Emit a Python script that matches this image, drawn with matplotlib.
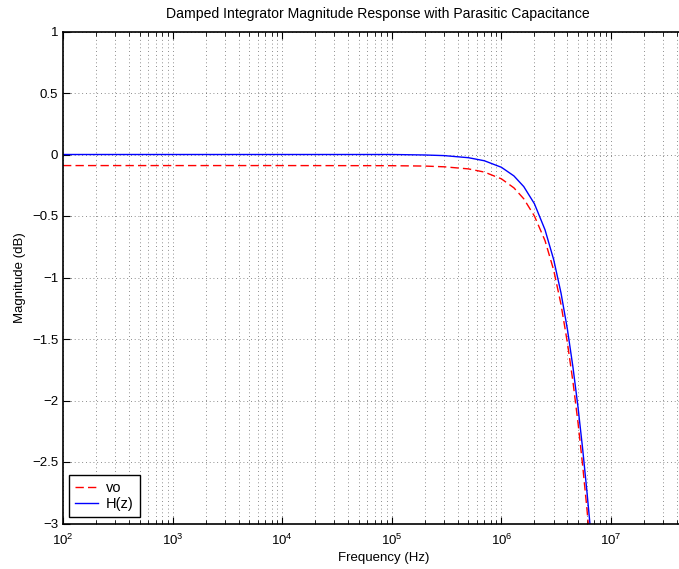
import matplotlib
matplotlib.use("Agg")
import matplotlib.pyplot as plt
from matplotlib.ticker import FixedLocator, LogLocator, NullFormatter

plt.rcParams['font.family'] = ['Liberation Sans', 'DejaVu Sans']
plt.rcParams['mathtext.fontset'] = 'custom'
plt.rcParams['mathtext.rm'] = 'Liberation Sans'
plt.rcParams['mathtext.it'] = 'Liberation Sans:italic'

# H(z) magnitude (Hz, dB)
h_freq = [1e2, 1e4, 1e5, 2e5, 3e5, 5e5, 7e5, 1e6, 1.3e6, 1.6e6, 2e6, 2.5e6,
          3e6, 3.5e6, 4e6, 4.5e6, 5e6, 5.5e6, 6e6, 6.5e6, 7e6]
h_db = [0.0, 0.0, 0.0, -0.004, -0.009, -0.026, -0.051, -0.104, -0.174, -0.261,
        -0.40, -0.612, -0.855, -1.127, -1.42, -1.731, -2.054, -2.385, -2.72,
        -3.05, -3.39]

# vo magnitude (Hz, dB)
vo_freq = [1e2, 1e4, 1e5, 2e5, 3e5, 5e5, 7e5, 1e6, 1.3e6, 1.6e6, 2e6, 2.5e6,
           3e6, 3.5e6, 4e6, 4.5e6, 5e6, 5.5e6, 6e6, 6.5e6, 7e6]
vo_db = [-0.09, -0.09, -0.091, -0.094, -0.10, -0.117, -0.143, -0.198, -0.271,
         -0.36, -0.50, -0.70, -0.94, -1.22, -1.53, -1.85, -2.18, -2.52, -2.86,
         -3.2, -3.55]

xticks = [1e2, 1e3, 1e4, 1e5, 1e6, 1e7]
yticks = [-3, -2.5, -2, -1.5, -1, -0.5, 0, 0.5, 1]
ytick_labels = ['\u22123', '\u22122.5', '\u22122', '\u22121.5', '\u22121',
                '\u22120.5', '0', '0.5', '1']

fig = plt.figure(figsize=(6.79, 5.69), dpi=100)
ax = fig.add_axes([63 / 679, 1 - 523.5 / 569, 657.6 / 679, 492 / 569])

ax.semilogx(vo_freq, vo_db, color='r', ls='--', lw=1, dashes=(6, 3), label='vo')
ax.semilogx(h_freq, h_db, color='b', ls='-', lw=1, label='H(z)')

ax.set_xlim(1e2, 1e8)
ax.set_ylim(-3, 1)
ax.set_yticks(yticks)
ax.set_yticklabels(ytick_labels)
ax.xaxis.set_major_locator(FixedLocator(xticks))
ax.xaxis.set_minor_locator(LogLocator(base=10, subs=range(2, 10), numticks=100))
ax.xaxis.set_minor_formatter(NullFormatter())

ax.grid(True, which='major', axis='both', color='k', ls=(0, (1, 3.5)), lw=0.6, alpha=0.6)
ax.grid(True, which='minor', axis='x', color='k', ls=(0, (1, 3.5)), lw=0.6, alpha=0.6)

ax.tick_params(which='both', direction='in', labelsize=9.5, top=True, right=True)
ax.tick_params(axis='x', which='major', pad=7)
ax.tick_params(which='major', length=5, width=0.8)
ax.tick_params(which='minor', length=3, width=0.6)
for s in ax.spines.values():
    s.set_linewidth(1.2)

ax.set_title('Damped Integrator Magnitude Response with Parasitic Capacitance',
             fontsize=10.1, x=(378 - 63) / 657.6, pad=10)
ax.set_xlabel('Frequency (Hz)', fontsize=9.5)
ax.xaxis.set_label_coords((384 - 63) / 657.6, -0.058)
ax.set_ylabel('Magnitude (dB)', fontsize=9.5)

leg = ax.legend(loc='lower left', fontsize=10.5, fancybox=False, framealpha=1,
                edgecolor='k', handlelength=1.6, handletextpad=0.55,
                borderpad=0.4, labelspacing=0.15, borderaxespad=0,
                bbox_to_anchor=(6 / 657.6, 6.5 / 492))
leg.get_frame().set_linewidth(1.0)

fig.savefig('out.png', dpi=100)
